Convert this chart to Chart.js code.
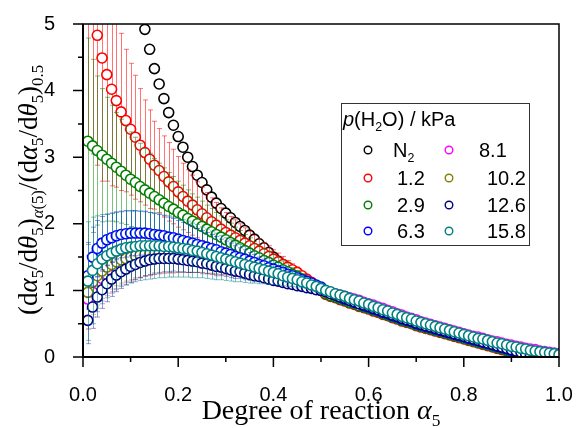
<!DOCTYPE html>
<html>
<head>
<meta charset="utf-8">
<script src="https://cdn.jsdelivr.net/npm/chart.js@4.4.1/dist/chart.umd.min.js"></script>
<style>
  body { margin: 0; background: #fff; }
  canvas { display: block; }
</style>
</head>
<body>
<canvas id="rateChart" width="579" height="428"></canvas>
<script>
// Degree of reaction (x) for every measured point
const alpha = [
  0.01,0.02,0.03,0.04,0.05,0.06,0.07,0.08,0.09,0.10,
  0.11,0.12,0.13,0.14,0.15,0.16,0.17,0.18,0.19,0.20,
  0.21,0.22,0.23,0.24,0.25,0.26,0.27,0.28,0.29,0.30,
  0.31,0.32,0.33,0.34,0.35,0.36,0.37,0.38,0.39,0.40,
  0.41,0.42,0.43,0.44,0.45,0.46,0.47,0.48,0.49,0.50,
  0.51,0.52,0.53,0.54,0.55,0.56,0.57,0.58,0.59,0.60,
  0.61,0.62,0.63,0.64,0.65,0.66,0.67,0.68,0.69,0.70,
  0.71,0.72,0.73,0.74,0.75,0.76,0.77,0.78,0.79,0.80,
  0.81,0.82,0.83,0.84,0.85,0.86,0.87,0.88,0.89,0.90,
  0.91,0.92,0.93,0.94,0.95,0.96,0.97,0.98,0.99,1.00
];

// Tick values
const xMajor = [0, 0.2, 0.4, 0.6, 0.8, 1.0];
const xMinor = [0.1, 0.3, 0.5, 0.7, 0.9];
const yMajor = [0, 1, 2, 3, 4, 5];
const yMinor = [0.5, 1.5, 2.5, 3.5, 4.5];

// Normalised rate per atmosphere (null = off scale / not measured)
const n2 = [
  null,null,null,null,null,null,null,null,null,null,
  null,null,4.92,4.62,4.33,4.10,3.88,3.67,3.48,3.31,
  3.15,3.00,2.86,2.73,2.62,2.51,2.40,2.31,2.23,2.16,
  2.09,2.02,1.96,1.90,1.83,1.77,1.70,1.64,1.57,1.50,
  1.44,1.39,1.34,1.29,1.24,1.19,1.14,1.09,1.05,1.00,
  0.96,0.93,0.91,0.88,0.86,0.83,0.81,0.78,0.76,0.74,
  0.71,0.69,0.66,0.64,0.61,0.59,0.56,0.54,0.52,0.49,
  0.47,0.45,0.43,0.41,0.39,0.37,0.35,0.33,0.31,0.29,
  0.27,0.25,0.23,0.21,0.19,0.17,0.15,0.13,0.11,0.09,
  0.07,0.05,0.03,0.01,null,null,null,null,null,null
];
const p12 = [
  5.80,5.25,4.83,4.49,4.24,4.02,3.85,3.68,3.55,3.42,
  3.30,3.18,3.07,2.97,2.88,2.80,2.71,2.63,2.56,2.48,
  2.41,2.34,2.28,2.21,2.15,2.09,2.03,1.98,1.92,1.87,
  1.83,1.79,1.75,1.71,1.67,1.63,1.59,1.55,1.51,1.47,
  1.43,1.39,1.35,1.31,1.27,1.22,1.17,1.12,1.07,1.02,
  0.94,0.91,0.89,0.86,0.84,0.81,0.79,0.76,0.74,0.72,
  0.69,0.67,0.64,0.62,0.59,0.57,0.54,0.52,0.50,0.47,
  0.45,0.43,0.41,0.39,0.37,0.35,0.33,0.31,0.29,0.27,
  0.25,0.23,0.21,0.19,0.17,0.15,0.13,0.11,0.09,0.07,
  0.05,0.03,0.01,null,null,null,null,null,null,null
];
const p29 = [
  3.24,3.17,3.10,3.03,2.97,2.91,2.85,2.79,2.73,2.67,
  2.62,2.56,2.51,2.46,2.41,2.36,2.31,2.26,2.22,2.17,
  2.13,2.08,2.04,2.00,1.96,1.92,1.88,1.84,1.80,1.76,
  1.72,1.68,1.64,1.60,1.56,1.52,1.49,1.45,1.42,1.38,
  1.35,1.31,1.28,1.24,1.21,1.17,1.13,1.10,1.06,1.02,
  0.95,0.92,0.90,0.87,0.85,0.82,0.80,0.77,0.75,0.73,
  0.70,0.68,0.65,0.63,0.60,0.58,0.55,0.53,0.51,0.48,
  0.46,0.44,0.42,0.40,0.38,0.36,0.34,0.32,0.30,0.28,
  0.26,0.24,0.22,0.20,0.18,0.16,0.14,0.12,0.10,0.08,
  0.06,0.04,0.02,0.00,null,null,null,null,null,null
];
const p63 = [
  1.22,1.50,1.63,1.71,1.76,1.79,1.82,1.84,1.85,1.86,
  1.86,1.86,1.86,1.85,1.84,1.83,1.82,1.80,1.79,1.77,
  1.75,1.73,1.71,1.69,1.67,1.65,1.63,1.61,1.58,1.56,
  1.54,1.51,1.49,1.47,1.44,1.42,1.39,1.37,1.34,1.32,
  1.29,1.27,1.24,1.22,1.19,1.16,1.14,1.11,1.08,1.05,
  0.99,0.96,0.93,0.90,0.87,0.85,0.82,0.80,0.77,0.75,
  0.72,0.70,0.67,0.65,0.62,0.60,0.57,0.55,0.53,0.50,
  0.48,0.46,0.44,0.42,0.40,0.38,0.36,0.34,0.32,0.30,
  0.28,0.26,0.24,0.22,0.20,0.18,0.16,0.14,0.12,0.10,
  0.08,0.06,0.04,0.02,0.00,null,null,null,null,null
];
const p81 = [
  0.87,1.00,1.10,1.18,1.24,1.29,1.33,1.37,1.40,1.42,
  1.44,1.46,1.47,1.48,1.49,1.50,1.50,1.50,1.50,1.49,
  1.49,1.48,1.47,1.46,1.45,1.43,1.42,1.40,1.39,1.37,
  1.35,1.34,1.32,1.30,1.28,1.27,1.25,1.23,1.21,1.19,
  1.18,1.16,1.14,1.12,1.10,1.08,1.06,1.04,1.02,1.00,
  0.99,0.97,0.95,0.93,0.91,0.89,0.87,0.85,0.82,0.80,
  0.78,0.75,0.73,0.70,0.68,0.65,0.63,0.60,0.58,0.56,
  0.53,0.51,0.49,0.47,0.45,0.43,0.41,0.39,0.37,0.35,
  0.33,0.31,0.30,0.28,0.26,0.24,0.23,0.21,0.19,0.18,
  0.16,0.15,0.13,0.12,0.11,0.09,0.08,0.07,0.06,0.05
];
const p102 = [
  0.97,1.12,1.22,1.29,1.35,1.39,1.43,1.46,1.48,1.50,
  1.52,1.53,1.54,1.55,1.55,1.56,1.56,1.56,1.55,1.55,
  1.54,1.53,1.52,1.51,1.50,1.48,1.47,1.45,1.43,1.42,
  1.40,1.38,1.36,1.34,1.32,1.30,1.28,1.26,1.24,1.22,
  1.20,1.18,1.16,1.14,1.12,1.10,1.07,1.05,1.02,1.00,
  0.97,0.95,0.93,0.91,0.88,0.86,0.84,0.82,0.79,0.77,
  0.74,0.72,0.69,0.67,0.64,0.62,0.59,0.57,0.55,0.52,
  0.50,0.48,0.46,0.44,0.42,0.40,0.38,0.36,0.34,0.32,
  0.30,0.28,0.26,0.25,0.23,0.21,0.19,0.18,0.16,0.14,
  0.13,0.11,0.10,0.08,0.07,0.06,0.05,0.04,0.03,0.02
];
const p126 = [
  0.55,0.75,0.90,1.01,1.10,1.17,1.23,1.28,1.32,1.36,
  1.39,1.42,1.44,1.46,1.47,1.48,1.48,1.48,1.48,1.47,
  1.46,1.45,1.44,1.43,1.41,1.40,1.38,1.36,1.35,1.33,
  1.31,1.29,1.28,1.26,1.24,1.22,1.21,1.19,1.17,1.15,
  1.14,1.12,1.10,1.09,1.07,1.06,1.04,1.03,1.01,1.00,
  0.98,0.95,0.93,0.90,0.88,0.85,0.83,0.80,0.78,0.76,
  0.73,0.71,0.68,0.66,0.63,0.61,0.58,0.56,0.54,0.51,
  0.49,0.47,0.45,0.43,0.41,0.39,0.37,0.35,0.33,0.31,
  0.29,0.27,0.25,0.23,0.21,0.19,0.17,0.15,0.13,0.11,
  0.09,0.07,0.05,0.03,0.01,null,null,null,null,null
];
const p158 = [
  1.14,1.30,1.40,1.47,1.52,1.56,1.59,1.62,1.64,1.65,
  1.66,1.67,1.67,1.67,1.67,1.67,1.66,1.66,1.65,1.64,
  1.63,1.62,1.60,1.59,1.57,1.55,1.53,1.51,1.49,1.47,
  1.45,1.43,1.41,1.39,1.37,1.35,1.33,1.31,1.29,1.27,
  1.25,1.22,1.20,1.18,1.16,1.13,1.11,1.08,1.06,1.03,
  1.00,0.98,0.95,0.93,0.91,0.88,0.86,0.84,0.81,0.79,
  0.76,0.74,0.71,0.69,0.66,0.64,0.61,0.59,0.57,0.54,
  0.52,0.50,0.48,0.46,0.44,0.42,0.40,0.38,0.36,0.34,
  0.32,0.30,0.28,0.27,0.25,0.23,0.21,0.20,0.18,0.16,
  0.15,0.13,0.12,0.10,0.09,0.08,0.07,0.06,0.05,0.035
];

// Half-widths of the error bars (first 50 points only)
const e12 = [
  2.60,2.20,1.95,1.85,1.60,1.45,1.30,1.18,1.07,0.99,
  0.93,0.85,0.79,0.74,0.66,0.63,0.61,0.59,0.56,0.53,
  0.50,0.47,0.45,0.42,0.40,0.38,0.36,0.34,0.32,0.30,
  0.28,0.27,0.25,0.23,0.22,0.20,0.19,0.17,0.16,0.14,
  0.13,0.12,0.10,0.09,0.08,0.06,0.05,0.04,0.03,0.02
];
const e29 = [
  1.55,1.30,1.12,1.00,0.93,0.87,0.82,0.78,0.74,0.71,
  0.68,0.65,0.62,0.60,0.57,0.55,0.53,0.51,0.49,0.47,
  0.45,0.43,0.41,0.40,0.38,0.36,0.35,0.33,0.32,0.30,
  0.29,0.27,0.26,0.24,0.23,0.21,0.20,0.18,0.17,0.16,
  0.14,0.13,0.12,0.10,0.09,0.08,0.07,0.06,0.05,0.04
];
const e63 = [
  0.50,0.45,0.42,0.40,0.38,0.37,0.36,0.35,0.35,0.34,
  0.34,0.33,0.33,0.32,0.32,0.31,0.30,0.30,0.29,0.28,
  0.27,0.26,0.25,0.24,0.23,0.22,0.21,0.20,0.19,0.18,
  0.17,0.16,0.15,0.14,0.13,0.12,0.11,0.10,0.09,0.08,
  0.08,0.07,0.06,0.05,0.05,0.04,0.03,0.03,0.02,0.02
];
const e81 = [
  0.45,0.40,0.37,0.34,0.32,0.31,0.30,0.29,0.28,0.28,
  0.27,0.27,0.26,0.26,0.25,0.25,0.24,0.24,0.23,0.22,
  0.22,0.21,0.20,0.19,0.18,0.18,0.17,0.16,0.15,0.14,
  0.13,0.13,0.12,0.11,0.10,0.10,0.09,0.08,0.08,0.07,
  0.06,0.06,0.05,0.05,0.04,0.04,0.03,0.03,0.02,0.02
];
const e102 = [
  0.55,0.48,0.44,0.41,0.39,0.37,0.36,0.35,0.34,0.34,
  0.33,0.33,0.32,0.32,0.31,0.31,0.30,0.29,0.29,0.28,
  0.27,0.26,0.25,0.24,0.23,0.22,0.21,0.20,0.19,0.18,
  0.17,0.16,0.15,0.14,0.13,0.12,0.11,0.10,0.09,0.09,
  0.08,0.07,0.06,0.06,0.05,0.04,0.04,0.03,0.03,0.02
];
const e126 = [
  0.35,0.32,0.30,0.28,0.27,0.26,0.25,0.25,0.24,0.24,
  0.23,0.23,0.22,0.22,0.21,0.21,0.20,0.20,0.19,0.19,
  0.18,0.18,0.17,0.16,0.16,0.15,0.14,0.14,0.13,0.12,
  0.12,0.11,0.10,0.10,0.09,0.08,0.08,0.07,0.07,0.06,
  0.06,0.05,0.05,0.04,0.04,0.03,0.03,0.02,0.02,0.02
];
const e158 = [
  0.89,0.80,0.72,0.67,0.63,0.60,0.58,0.56,0.55,0.54,
  0.53,0.52,0.51,0.50,0.49,0.48,0.47,0.46,0.45,0.44,
  0.43,0.42,0.41,0.40,0.38,0.37,0.36,0.35,0.33,0.32,
  0.31,0.30,0.28,0.27,0.26,0.24,0.23,0.21,0.20,0.18,
  0.17,0.15,0.14,0.12,0.11,0.09,0.08,0.06,0.05,0.03
];

// Series in legend order; `order` puts 15.8 kPa on top
const series = [
  { label: 'N2',   color: '#000000', bar: null,                   values: n2,   errors: null, order: 7 },
  { label: '1.2',  color: '#ff0000', bar: 'rgba(255,0,0,0.55)',   values: p12,  errors: e12,  order: 6 },
  { label: '2.9',  color: '#008000', bar: 'rgba(0,128,0,0.5)',    values: p29,  errors: e29,  order: 5 },
  { label: '6.3',  color: '#0000ff', bar: 'rgba(0,0,255,0.45)',   values: p63,  errors: e63,  order: 2 },
  { label: '8.1',  color: '#ff00ff', bar: 'rgba(255,0,255,0.45)', values: p81,  errors: e81,  order: 4 },
  { label: '10.2', color: '#808000', bar: 'rgba(128,128,0,0.45)', values: p102, errors: e102, order: 3 },
  { label: '12.6', color: '#000080', bar: 'rgba(0,0,128,0.4)',    values: p126, errors: e126, order: 1 },
  { label: '15.8', color: '#008080', bar: 'rgba(0,128,128,0.5)',  values: p158, errors: e158, order: 0 }
];

const SANS = '"Liberation Sans", Arial, sans-serif';
const SERIF = '"Liberation Serif", "Times New Roman", serif';

// Text made of runs: n = normal, i = italic, s = subscript, si = italic subscript
function richWidth(ctx, runs, size, family) {
  let w = 0;
  runs.forEach(([t, st]) => {
    const fs = st.includes('s') ? size * 0.62 : size;
    ctx.font = (st.includes('i') ? 'italic ' : '') + fs + 'px ' + family;
    w += ctx.measureText(t).width;
  });
  return w;
}
function drawRich(ctx, runs, x, y, size, family) {
  let cx = x;
  runs.forEach(([t, st]) => {
    const sub = st.includes('s');
    const fs = sub ? size * 0.62 : size;
    ctx.font = (st.includes('i') ? 'italic ' : '') + fs + 'px ' + family;
    ctx.fillText(t, cx, y + (sub ? size * 0.24 : 0));
    cx += ctx.measureText(t).width;
  });
}

// Keep the plot area fixed: no extra room for overhanging tick labels
function noOverhang(s) {
  s.paddingLeft = 0; s.paddingRight = 0; s.paddingTop = 0; s.paddingBottom = 0;
}

// Vertical error bars, drawn just below each series' circles
const errorBars = {
  id: 'errorBars',
  beforeDatasetDraw(chart, args) {
    const ds = chart.data.datasets[args.index];
    if (!ds.errors) return;
    const { ctx, chartArea: a } = chart;
    const xs = chart.scales.x, ys = chart.scales.y;
    ctx.save();
    ctx.beginPath();
    ctx.rect(a.left, a.top, a.right - a.left, a.bottom - a.top);
    ctx.clip();
    ctx.strokeStyle = ds.barColor;
    ctx.lineWidth = 1;
    ds.errors.forEach((e, i) => {
      const v = ds.values[i];
      if (v == null || e == null) return;
      const px = Math.round(xs.getPixelForValue(alpha[i])) + 0.5;
      const top = ys.getPixelForValue(v + e);
      const bot = ys.getPixelForValue(v - e);
      ctx.beginPath();
      ctx.moveTo(px, top); ctx.lineTo(px, bot);
      ctx.moveTo(px - 2.5, top); ctx.lineTo(px + 2.5, top);
      ctx.moveTo(px - 2.5, bot); ctx.lineTo(px + 2.5, bot);
      ctx.stroke();
    });
    ctx.restore();
  }
};

// Frame, tick marks, axis titles and the legend box
const decorations = {
  id: 'decorations',
  afterDraw(chart) {
    const { ctx, chartArea: a } = chart;
    const xs = chart.scales.x, ys = chart.scales.y;
    ctx.save();
    ctx.strokeStyle = '#000';

    // frame
    ctx.lineWidth = 1.5;
    ctx.strokeRect(a.left, a.top, a.right - a.left, a.bottom - a.top);
    ctx.lineWidth = 2;
    ctx.beginPath();
    ctx.moveTo(a.left, a.top); ctx.lineTo(a.left, a.bottom); ctx.lineTo(a.right, a.bottom);
    ctx.stroke();

    // ticks, outward
    ctx.lineWidth = 1.5;
    ctx.beginPath();
    xMajor.forEach(v => { const p = xs.getPixelForValue(v); ctx.moveTo(p, a.bottom); ctx.lineTo(p, a.bottom + 10); });
    xMinor.forEach(v => { const p = xs.getPixelForValue(v); ctx.moveTo(p, a.bottom); ctx.lineTo(p, a.bottom + 5); });
    yMajor.forEach(v => { const p = ys.getPixelForValue(v); ctx.moveTo(a.left, p); ctx.lineTo(a.left - 10, p); });
    yMinor.forEach(v => { const p = ys.getPixelForValue(v); ctx.moveTo(a.left, p); ctx.lineTo(a.left - 5, p); });
    ctx.stroke();

    ctx.fillStyle = '#000';
    ctx.textBaseline = 'alphabetic';
    ctx.textAlign = 'left';

    // x title
    const xTitle = [['Degree of reaction ', 'n'], ['α', 'i'], ['5', 's']];
    const xSize = 28;
    const xw = richWidth(ctx, xTitle, xSize, SERIF);
    drawRich(ctx, xTitle, (a.left + a.right) / 2 - xw / 2, 419, xSize, SERIF);

    // y title, rotated
    const yTitle = [
      ['(d', 'n'], ['α', 'i'], ['5', 's'], ['/d', 'n'], ['θ', 'i'], ['5', 's'], [')', 'n'],
      ['α', 'si'], ['(5)', 's'],
      ['/(d', 'n'], ['α', 'i'], ['5', 's'], ['/d', 'n'], ['θ', 'i'], ['5', 's'], [')', 'n'], ['0.5', 's']
    ];
    const ySize = 27;
    const yw = richWidth(ctx, yTitle, ySize, SERIF);
    ctx.save();
    ctx.translate(37, 190);
    ctx.rotate(-Math.PI / 2);
    drawRich(ctx, yTitle, -yw / 2, 0, ySize, SERIF);
    ctx.restore();

    // legend
    const box = { x: 341, y: 103, w: 188, h: 142 };
    ctx.fillStyle = '#fff';
    ctx.fillRect(box.x, box.y, box.w, box.h);
    ctx.strokeStyle = '#333';
    ctx.lineWidth = 1;
    ctx.strokeRect(box.x + 0.5, box.y + 0.5, box.w, box.h);
    ctx.fillStyle = '#000';
    drawRich(ctx, [['p', 'i'], ['(H', 'n'], ['2', 's'], ['O) / kPa', 'n']], 343, 126, 20, SANS);

    const rows = [150, 178, 205, 231];
    const markX = [368, 449];
    const textX = [393, 397, 397, 397, 479, 487, 487, 487];
    series.forEach((s, i) => {
      const col = Math.floor(i / 4), y = rows[i % 4];
      ctx.beginPath();
      ctx.arc(markX[col], y, 3.8, 0, Math.PI * 2);
      ctx.strokeStyle = s.color;
      ctx.lineWidth = 1.4;
      ctx.stroke();
      ctx.fillStyle = '#000';
      const runs = s.label === 'N2' ? [['N', 'n'], ['2', 's']] : [[s.label, 'n']];
      drawRich(ctx, runs, textX[i], y + 7, 20, SANS);
    });
    ctx.restore();
  }
};

new Chart(document.getElementById('rateChart'), {
  type: 'scatter',
  data: {
    datasets: series.map(s => ({
      label: s.label,
      data: alpha.map((a, i) => ({ x: a, y: s.values[i] })),
      values: s.values,
      errors: s.errors,
      barColor: s.bar,
      borderColor: s.color,
      backgroundColor: '#ffffff',
      pointRadius: 5,
      pointBorderWidth: 1.6,
      showLine: false,
      clip: 0,
      order: s.order
    }))
  },
  options: {
    responsive: false,
    animation: false,
    events: [],
    layout: { padding: { top: 24, right: 20, left: 0, bottom: 0 } },
    plugins: { legend: { display: false }, tooltip: { enabled: false } },
    scales: {
      x: {
        type: 'linear', min: 0, max: 1,
        afterFit: s => { s.height = 71; noOverhang(s); },
        afterBuildTicks: s => { s.ticks = xMajor.map(v => ({ value: v })); },
        grid: { display: false },
        border: { display: false },
        ticks: {
          color: '#000', padding: 18, maxRotation: 0, autoSkip: false,
          font: { family: SANS, size: 20 },
          callback: v => v.toFixed(1)
        }
      },
      y: {
        type: 'linear', min: 0, max: 5,
        afterFit: s => { s.width = 83; noOverhang(s); },
        afterBuildTicks: s => { s.ticks = yMajor.map(v => ({ value: v })); },
        grid: { display: false },
        border: { display: false },
        ticks: {
          color: '#000', padding: 20,
          font: { family: SANS, size: 20 },
          callback: v => String(v)
        }
      }
    }
  },
  plugins: [errorBars, decorations]
});
</script>
</body>
</html>
